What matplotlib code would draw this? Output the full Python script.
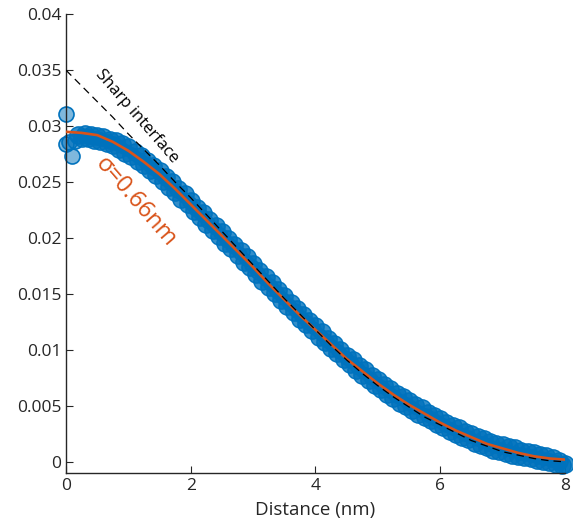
import numpy as np
import matplotlib
matplotlib.use("Agg")
import matplotlib.pyplot as plt

plt.rcParams['font.family'] = ['Open Sans', 'DejaVu Sans']

# measured profile (blue circles), sampled every 0.05 nm from 0 to 8 nm
data_x = np.round(np.arange(161) * 0.05, 2)
data_y = [
    0.0290, 0.0287, 0.0291, 0.0288, 0.0292, 0.0289, 0.0293, 0.0289, 0.0292, 0.0288,
    0.0291, 0.0287, 0.0290, 0.0285, 0.0288, 0.0283, 0.0287, 0.0280, 0.0284, 0.0276,
    0.0281, 0.0273, 0.0277, 0.0269, 0.0273, 0.0265, 0.0269, 0.0261, 0.0264, 0.0256,
    0.0260, 0.0251, 0.0255, 0.0246, 0.0250, 0.0241, 0.0244, 0.0235, 0.0239, 0.0230,
    0.0233, 0.0224, 0.0227, 0.0219, 0.0222, 0.0213, 0.0216, 0.0207, 0.0211, 0.0202,
    0.0205, 0.0196, 0.0199, 0.0191, 0.0194, 0.0185, 0.0188, 0.0179, 0.0183, 0.0174,
    0.0177, 0.0168, 0.0171, 0.0162, 0.0165, 0.0156, 0.0160, 0.0151, 0.0154, 0.0145,
    0.0148, 0.0139, 0.0142, 0.0134, 0.0137, 0.0128, 0.0131, 0.0123, 0.0126, 0.0118,
    0.0121, 0.0112, 0.0116, 0.0107, 0.0110, 0.0102, 0.0105, 0.0097, 0.0100, 0.0092,
    0.0095, 0.0087, 0.0091, 0.0082, 0.0086, 0.0078, 0.0082, 0.0073, 0.0077, 0.0069,
    0.0073, 0.0065, 0.0069, 0.0061, 0.0065, 0.0057, 0.0061, 0.0053, 0.0058, 0.0050,
    0.0054, 0.0046, 0.0051, 0.0043, 0.0048, 0.0040, 0.0044, 0.0037, 0.0041, 0.0034,
    0.0038, 0.0031, 0.0035, 0.0028, 0.0032, 0.0025, 0.0030, 0.0022, 0.0027, 0.0020,
    0.0025, 0.0017, 0.0022, 0.0015, 0.0020, 0.0013, 0.0018, 0.0011, 0.0016, 0.0010,
    0.0015, 0.0008, 0.0013, 0.0006, 0.0012, 0.0005, 0.0010, 0.0004, 0.0009, 0.0003,
    0.0008, 0.0002, 0.0006, 0.0001, 0.0005, 0.0000, 0.0003, -0.0002, 0.0001, -0.0003,
    -0.0002,
]
# scattered first points near the origin
outlier_x = [0.0, 0.0, 0.05, 0.1, 0.15]
outlier_y = [0.0311, 0.0284, 0.0286, 0.0273, 0.0287]

# fitted curve, sigma = 0.66 nm
fit_x = [0.0, 0.25, 0.5, 0.75, 1.0, 1.25, 1.5, 1.75, 2.0, 2.25, 2.5, 2.75, 3.0, 3.25, 3.5, 3.75,
         4.0, 4.25, 4.5, 4.75, 5.0, 5.25, 5.5, 5.75, 6.0, 6.25, 6.5, 6.75, 7.0, 7.25, 7.5, 7.75, 8.0]
fit_y = [0.0295, 0.0294, 0.0292, 0.0286, 0.0278, 0.0268, 0.0257, 0.0244, 0.0230, 0.0216, 0.0202,
         0.0188, 0.0174, 0.0159, 0.0145, 0.0131, 0.0118, 0.0105, 0.0092, 0.0081, 0.0070, 0.0060,
         0.0051, 0.0043, 0.0035, 0.0028, 0.0022, 0.0016, 0.0012, 0.0008, 0.0005, 0.0003, 0.0002]

# sharp interface model
sharp_y = [0.0350, 0.0336, 0.0322, 0.0308, 0.0293, 0.0279, 0.0265, 0.0250, 0.0236, 0.0221, 0.0206,
           0.0191, 0.0176, 0.0161, 0.0146, 0.0132, 0.0118, 0.0104, 0.0091, 0.0079, 0.0068, 0.0058,
           0.0049, 0.0040, 0.0033, 0.0026, 0.0019, 0.0014, 0.0009, 0.0006, 0.0003, 0.0001, 0.0000]

yticks = [0, 0.005, 0.01, 0.015, 0.02, 0.025, 0.03, 0.035, 0.04]
ytick_labels = ['0', '0.005', '0.01', '0.015', '0.02', '0.025', '0.03', '0.035', '0.04']
xticks = [0, 2, 4, 6, 8]

blue = (0, 0.447, 0.741)
orange = (0.85, 0.325, 0.098)
axcol = (0.15, 0.15, 0.15)

fig = plt.figure(figsize=(5.73, 5.25), dpi=100)
ax = fig.add_axes([0.1152, 0.099, 0.8708, 0.8738])

ax.plot(data_x[4:], data_y[4:], ls='none', marker='o', ms=12.4,
        mfc=(0, 0.447, 0.741, 0.8), mec=blue, mew=1.0, clip_on=False, zorder=2)
ax.plot(outlier_x, outlier_y, ls='none', marker='o', ms=10.8,
        mfc=(0, 0.447, 0.741, 0.5), mec=blue, mew=1.2, clip_on=False, zorder=2)
ax.plot(fit_x, fit_y, '-', color=orange, lw=1.9, zorder=3)
ax.plot(fit_x, sharp_y, '--', color='black', lw=0.9, dashes=(6, 4), zorder=4)

ax.text(1.14, 0.0309, 'Sharp interface', rotation=-49, ha='center', va='center',
        fontsize=12, color='black')
ax.text(1.12, 0.0232, 'σ=0.66nm', rotation=-49, ha='center', va='center',
        fontsize=17, color=orange)

ax.set_xlim(0, 8)
ax.set_ylim(-0.001, 0.04)
ax.set_xticks(xticks)
ax.set_yticks(yticks)
ax.set_yticklabels(ytick_labels)
ax.set_xlabel('Distance (nm)', fontsize=13.5, color=axcol, labelpad=5)

for s in ['top', 'right']:
    ax.spines[s].set_visible(False)
for s in ['left', 'bottom']:
    ax.spines[s].set_color(axcol)
    ax.spines[s].set_linewidth(1.0)
ax.tick_params(direction='in', length=5, width=0.8, colors=axcol, labelsize=12.5)

fig.savefig('out.png', dpi=100)
